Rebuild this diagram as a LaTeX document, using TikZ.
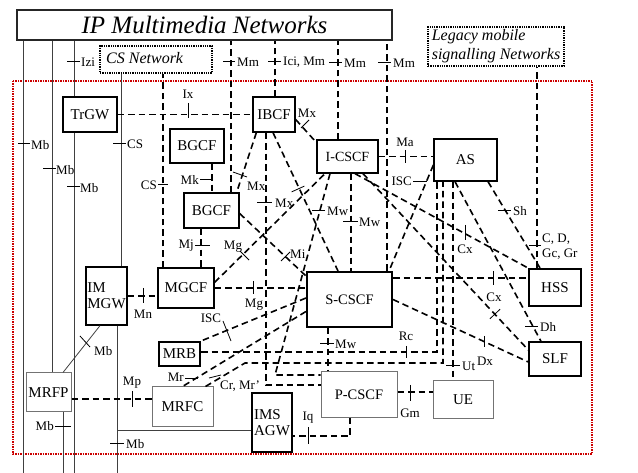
\documentclass[tikz,border=0pt]{standalone}
\usepackage{fontspec}
\setmainfont{Liberation Serif}
\usetikzlibrary{calc}
\begin{document}
\begin{tikzpicture}[x=1pt,y=-1pt,
  box/.style={draw, line width=1.3pt, inner sep=0pt, font=\fontsize{15}{16}\selectfont},
  hbox/.style={box, line width=2pt},
  gbox/.style={box, draw=black!55, line width=1pt},
  dotbox/.style={draw, densely dotted, line width=1.3pt, inner sep=0pt},
  dl/.style={line width=1.6pt, dash pattern=on 6.5pt off 4pt},
  sl/.style={line width=0.8pt, black!75},
  tk/.style={line width=0.8pt},
  lbl/.style={inner sep=0pt, font=\fontsize{13}{14}\selectfont},
]
\useasboundingbox (0,0) rectangle (638,473);
\draw[red!80!black, densely dotted, line width=1.5pt] (13,81) rectangle (592,454);

% boxes
\node[draw, line width=1.6pt, black!85, text=black, inner sep=0pt, minimum width=375pt, minimum height=30pt,
      font=\fontsize{25}{25}\selectfont\itshape] (title) at (204.5,25) {IP Multimedia Networks};
\node[dotbox, minimum width=112pt, minimum height=27pt] (csnet) at (156,59.5) {};
\node[anchor=west, inner sep=0pt, font=\fontsize{16}{16}\selectfont\itshape] (csnettxt) at (106,58.5) {CS Network};
\node[dotbox, minimum width=136pt, minimum height=39pt, align=left,
      font=\fontsize{16}{19}\selectfont\itshape] (legacy) at (496,46.5) {Legacy mobile\\signalling Networks};

\node[box, minimum width=54pt, minimum height=35pt] (trgw) at (90,114.5) {TrGW};
\node[box, minimum width=42pt, minimum height=35pt] (ibcf) at (274,114.5) {IBCF};
\node[box, minimum width=54pt, minimum height=34pt] (bgcf1) at (197,146) {BGCF};
\node[box, minimum width=55pt, minimum height=35pt] (bgcf2) at (211.5,210.5) {BGCF};
\node[box, minimum width=56pt, minimum height=40pt] (mgcf) at (186,288) {MGCF};
\node[box, minimum width=41pt, minimum height=58pt, align=left] (imgw) at (106.5,296) {IM\\MGW};
\node[box, minimum width=61pt, minimum height=33pt, font=\fontsize{14}{15}\selectfont] (icscf) at (347.5,156.5) {I-CSCF};
\node[box, minimum width=63pt, minimum height=42pt] (as) at (465.5,160) {AS};
\node[hbox, minimum width=85pt, minimum height=55pt, font=\fontsize{14.5}{15}\selectfont] (scscf) at (349.5,299.5) {S-CSCF};
\node[hbox, minimum width=52pt, minimum height=37pt] (hss) at (555,287.5) {HSS};
\node[box, minimum width=52pt, minimum height=34pt] (slf) at (555,359) {SLF};
\node[hbox, minimum width=41pt, minimum height=24pt] (mrb) at (179.5,354) {MRB};
\node[gbox, minimum width=45pt, minimum height=39pt] (mrfp) at (48.5,392.5) {MRFP};
\node[gbox, minimum width=61pt, minimum height=39pt] (mrfc) at (182.5,406.5) {MRFC};
\node[hbox, minimum width=40pt, minimum height=59pt, align=left] (imsagw) at (272,422.5) {IMS\\AGW};
\node[gbox, minimum width=76pt, minimum height=45pt, font=\fontsize{14.5}{15}\selectfont] (pcscf) at (359,394.5) {P-CSCF};
\node[gbox, minimum width=60pt, minimum height=37pt] (ue) at (463,399.5) {UE};

% thin solid links
\coordinate (e23) at (23,473);
\draw[sl] (title.south -| e23) -- (e23);
\draw[tk] (18,143) -- (30,143); \node[lbl,anchor=west] (l1) at (31,145) {Mb};

\draw[sl] ([xshift=3.5pt]mrfp.north) -- ([xshift=3.5pt]mrfp.north |- title.south);
\draw[tk] (43,168) -- (56,168); \node[lbl,anchor=west] (l2) at (56,170) {Mb};

\draw[sl] ([xshift=-16pt]trgw.north) -- ([xshift=-16pt]trgw.north |- title.south);
\draw[tk] (67,61) -- (80,61); \node[lbl,anchor=west] (l3) at (81,62) {Izi};
\coordinate (e74) at (74,473);
\draw[sl] (trgw.south -| e74) -- (e74);
\draw[tk] (67,186) -- (80,186); \node[lbl,anchor=west] (l4) at (80,188) {Mb};

\draw[sl] ([xshift=14.5pt]imgw.north) -- ([xshift=14.5pt]imgw.north |- csnet.south);
\draw[tk] (113,143) -- (126,143); \node[lbl,anchor=west] (l5) at (127,144) {CS};

\coordinate (e117) at (117,473); \coordinate (j117) at (117,430);
\draw[sl] (imgw.south -| e117) -- (e117);
\draw[sl] (j117) -- (imsagw.west |- j117);
\draw[tk] (110,443) -- (124,443); \node[lbl,anchor=west] (l6) at (126,444) {Mb};

\draw[sl] ([xshift=-6.5pt]imgw.south) -- ([xshift=14.5pt]mrfp.north);
\draw[tk] (80,336) -- (90,347); \node[lbl,anchor=west] (l7) at (94,351) {Mb};

\coordinate (e63) at (63,473);
\draw[sl] (mrfp.south -| e63) -- (e63);
\draw[tk] (55,426) -- (71,426); \node[lbl,anchor=east] (l8) at (54,426) {Mb};

% dashed links
\draw[dl] ([xshift=19.5pt]bgcf2.north) -- ([xshift=19.5pt]bgcf2.north |- title.south);
\draw[tk] (223,61) -- (235,61); \node[lbl,anchor=west] (l9) at (237,62) {Mm};

\draw[dl] ([xshift=1pt]ibcf.north) -- ([xshift=1pt]ibcf.north |- title.south);
\draw[tk] (268,61) -- (281,61); \node[lbl,anchor=west] (l10) at (283,62) {Ici, Mm};

\draw[dl] ([xshift=-9.5pt]icscf.north) -- ([xshift=-9.5pt]icscf.north |- title.south);
\draw[tk] (329,62) -- (342,62); \node[lbl,anchor=west] (l11) at (344,63) {Mm};

\draw[dl] ([xshift=37.5pt]scscf.north) -- ([xshift=37.5pt]scscf.north |- title.south);
\draw[tk] (378,62) -- (391,62); \node[lbl,anchor=west] (l12) at (393,63) {Mm};

\draw[dl] ([xshift=-18pt]hss.north) -- ([xshift=-18pt]hss.north |- legacy.south);
\draw[tk] (529,245) -- (541,245);
\node[lbl,anchor=west] (l13) at (542,239) {C, D,};
\node[lbl,anchor=west] (l14) at (542,254) {Gc, Gr};

\draw[dl] ([xshift=-23pt]mgcf.north) -- ([xshift=-23pt]mgcf.north |- csnet.south);
\draw[tk] (158,184) -- (168,184); \node[lbl,anchor=east] (l15) at (157,185) {CS};

\draw[dl] (trgw.east) -- (ibcf.west);
\draw[tk] (188,103) -- (188,118); \node[lbl] (l16) at (188,94) {Ix};

\draw[dl] ([xshift=15pt]bgcf1.south) -- ([xshift=15pt]bgcf1.south |- bgcf2.north);
\draw[tk] (200,179) -- (213,179); \node[lbl,anchor=east] (l17) at (199,180) {Mk};

\draw[dl] ([xshift=-10.5pt]bgcf2.south) -- ([xshift=-10.5pt]bgcf2.south |- mgcf.north);
\draw[tk] (195,245) -- (210,245); \node[lbl,anchor=east] (l18) at (194,246) {Mj};

\draw[dl] (imgw.east) -- (mgcf.west |- imgw.east);
\draw[tk] (143,288) -- (143,303); \node[lbl] (l19) at (143,314) {Mn};

\draw[dl] (mgcf.east) -- (scscf.west |- mgcf.east);
\draw[tk] (253,281) -- (253,294); \node[lbl] (l20) at (254,305) {Mg};

\draw[dl] ([yshift=-15pt]mgcf.north east) -- ([xshift=-22.5pt]icscf.south);
\draw[tk] (240,251) -- (249,260); \node[lbl] (l21) at (233,247) {Mg};

\draw[dl] ([yshift=-3pt]bgcf2.east) -- ([yshift=-5pt]scscf.north west);
\draw[tk] (281,261) -- (290,252); \node[lbl,anchor=west] (l22) at (290,254) {Mi};

\draw[dl] ([xshift=4pt]ibcf.south west) -- ([xshift=-3pt]bgcf2.north east);
\draw[tk] (233,172) -- (247,177); \node[lbl,anchor=west] (l23) at (247,186) {Mx};

\draw[dl] ([yshift=-5pt]ibcf.east) -- ([yshift=14pt]icscf.west);
\draw[tk] (301,128) -- (309,120); \node[lbl] (l24) at (307,113) {Mx};

\coordinate (c1) at (266,385);
\draw[dl] ([xshift=-8pt]ibcf.south) -- (c1) -- (pcscf.west |- c1);
\draw[tk] (257,202) -- (272,202); \node[lbl,anchor=west] (l25) at (275,203) {Mx};

\draw[dl] ([xshift=-1pt]ibcf.south) -- ([xshift=-11.5pt]scscf.north);
\draw[tk] (291.6,191.9) -- (304.4,186.1);

\coordinate (c2) at (275,375);
\draw[dl] ([xshift=-17.5pt]icscf.south) -- (c2) -- (pcscf.west |- c2);
\draw[tk] (312,210) -- (325,210); \node[lbl,anchor=west] (l26) at (327,211) {Mw};

\draw[dl] ([xshift=3.5pt]icscf.south) -- ([xshift=3.5pt]icscf.south |- scscf.north);
\draw[tk] (343,221) -- (358,221); \node[lbl,anchor=west] (l27) at (359,222) {Mw};

\draw[dl] (icscf.east) -- (as.west |- icscf.east);
\draw[tk] (405,150) -- (405,163); \node[lbl] (l28) at (405,142) {Ma};

\draw[dl] ([xshift=7.5pt]icscf.south) -- (hss.north west);
\draw[tk] (465,225) -- (465,240); \node[lbl] (l29) at (465,249) {Cx};

\draw[dl] ([xshift=15.5pt]icscf.south) -- ([yshift=9pt]slf.west);
\draw[tk] (489.9,318.8) -- (500.1,309.2);

\draw[dl] ([yshift=-5pt]as.west) -- ([xshift=-4pt]scscf.north east);
\draw[tk] (413,181) -- (427,181); \node[lbl,anchor=east] (l30) at (412,181) {ISC};

\draw[dl] ([xshift=22.5pt]as.south) -- ([xshift=-15pt]hss.north);
\draw[tk] (498,210) -- (511,210); \node[lbl,anchor=west] (l31) at (513,211) {Sh};

\draw[dl] ([xshift=-10.5pt]as.south) -- ([xshift=-14pt]slf.north);
\draw[tk] (525,326) -- (538,326); \node[lbl,anchor=west] (l32) at (540,327) {Dh};

\coordinate (c7) at ([yshift=21.5pt]scscf.east);
\draw[dl] (c7) -- (hss.west |- c7);
\draw[tk] (493,271) -- (493,285); \node[lbl] (l33) at (494,297) {Cx};

\draw[dl] (scscf.east) -- ([yshift=-3pt]slf.west);
\draw[tk] (484,336) -- (484,347); \node[lbl] (l34) at (485,361) {Dx};

\draw[dl] ([xshift=-21.5pt]scscf.south) -- ([xshift=-21.5pt]scscf.south |- pcscf.north);
\draw[tk] (320,343) -- (334,343); \node[lbl,anchor=west] (l35) at (335,344) {Mw};

\draw[dl] ([yshift=1.5pt]scscf.west) -- (mrb.north east);
\draw[tk] (223,321) -- (231,341); \node[lbl] (l36) at (211,318) {ISC};

\draw[dl] ([yshift=-12pt]scscf.west) -- (mrfc.north);
\draw[tk] (185,378) -- (198,378); \node[lbl,anchor=east] (l37) at (184,377) {Mr};

\coordinate (c3) at (437,352);
\draw[dl] ([yshift=2pt]mrb.east) -- (c3) -- (c3 |- as.south);
\draw[tk] (406,346) -- (406,358); \node[lbl] (l38) at (406,336) {Rc};

\coordinate (c4) at (245,363); \coordinate (c5) at (443,363);
\draw[dl] ([xshift=-8pt]mrfc.north east) -- (c4) -- (c5) -- (c5 |- as.south);
\draw[tk] (209,378) -- (221,375); \node[lbl,anchor=west] (l39) at (220,386) {Cr, Mr’};

\draw[dl] ([xshift=-12.5pt]as.south) -- ([xshift=-12.5pt]as.south |- ue.north);
\draw[tk] (446,365) -- (460,365); \node[lbl,anchor=west] (l40) at (462,366) {Ut};

\coordinate (c8) at ([yshift=2.5pt]pcscf.east);
\draw[dl] (c8) -- (ue.west |- c8);
\draw[tk] (410,385) -- (410,401); \node[lbl] (l41) at (410,413) {Gm};

\coordinate (c6) at (350,436);
\draw[dl] ([xshift=-9pt]pcscf.south) -- (c6) -- (imsagw.east |- c6);
\draw[tk] (308,427) -- (308,444); \node[lbl] (l42) at (308,418) {Iq};

\coordinate (c9) at ([yshift=-6.5pt]mrfp.east);
\draw[dl] (c9) -- (mrfc.west |- c9);
\draw[tk] (132,391) -- (132,407); \node[lbl] (l43) at (132,383) {Mp};
\end{tikzpicture}
\end{document}
